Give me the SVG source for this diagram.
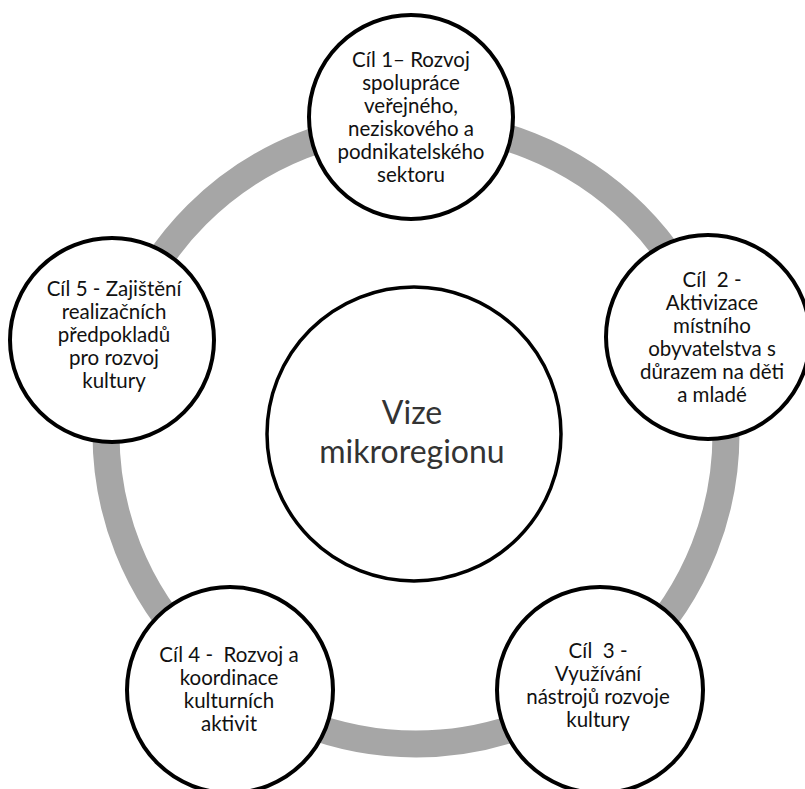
<svg xmlns="http://www.w3.org/2000/svg" width="805" height="789" viewBox="0 0 805 789">
  <style>
    .node { fill: #ffffff; stroke: #000000; stroke-width: 4; }
    .lbl { font-family: Lato, "Open Sans", sans-serif; font-size: 20.5px; fill: #111111; text-anchor: middle; }
    .big { font-family: Lato, "Open Sans", sans-serif; font-size: 32px; fill: #333333; text-anchor: middle; }
    .ring { fill: none; stroke: #a6a6a6; stroke-width: 27; }
  </style>
  <rect width="805" height="789" fill="#ffffff"/>
  <g id="connectors">
    <circle class="ring" cx="416" cy="434" r="310"/>
  </g>
  <g id="center">
    <circle class="node" cx="414" cy="434" r="147" style="stroke-width:3.5"/>
    <text class="big" x="412" y="424">Vize</text>
    <text class="big" x="412" y="463">mikroregionu</text>
  </g>
  <g id="cil1">
    <circle class="node" cx="411" cy="117" r="102"/>
    <text class="lbl" x="411" y="67">Cíl 1– Rozvoj</text>
    <text class="lbl" x="411" y="90">spolupráce</text>
    <text class="lbl" x="411" y="113">veřejného,</text>
    <text class="lbl" x="411" y="136">neziskového a</text>
    <text class="lbl" x="411" y="159">podnikatelského</text>
    <text class="lbl" x="411" y="182">sektoru</text>
  </g>
  <g id="cil2">
    <circle class="node" cx="708" cy="337" r="102"/>
    <text class="lbl" x="712" y="287" xml:space="preserve">Cíl  2 -</text>
    <text class="lbl" x="712" y="310">Aktivizace</text>
    <text class="lbl" x="712" y="333">místního</text>
    <text class="lbl" x="712" y="356">obyvatelstva s</text>
    <text class="lbl" x="712" y="379">důrazem na děti</text>
    <text class="lbl" x="712" y="402">a mladé</text>
  </g>
  <g id="cil3">
    <circle class="node" cx="600" cy="690" r="103"/>
    <text class="lbl" x="598" y="658" xml:space="preserve">Cíl  3 -</text>
    <text class="lbl" x="598" y="681">Využívání</text>
    <text class="lbl" x="598" y="704">nástrojů rozvoje</text>
    <text class="lbl" x="598" y="727">kultury</text>
  </g>
  <g id="cil4">
    <circle class="node" cx="230" cy="690" r="103"/>
    <text class="lbl" x="229" y="662" xml:space="preserve">Cíl 4 -  Rozvoj a</text>
    <text class="lbl" x="229" y="685">koordinace</text>
    <text class="lbl" x="229" y="708">kulturních</text>
    <text class="lbl" x="229" y="731">aktivit</text>
  </g>
  <g id="cil5">
    <circle class="node" cx="112" cy="340" r="102"/>
    <text class="lbl" x="114" y="296">Cíl 5 - Zajištění</text>
    <text class="lbl" x="114" y="319">realizačních</text>
    <text class="lbl" x="114" y="342">předpokladů</text>
    <text class="lbl" x="114" y="365">pro rozvoj</text>
    <text class="lbl" x="114" y="388">kultury</text>
  </g>
</svg>
